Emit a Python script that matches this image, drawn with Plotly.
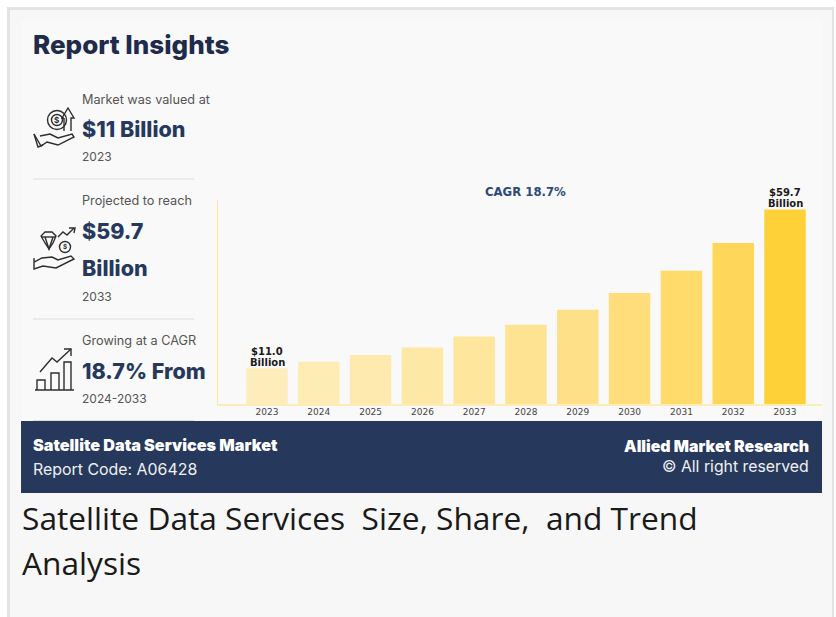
import plotly.graph_objects as go

W, H = 836, 617

# Market size by year, USD billion
years = [2023, 2024, 2025, 2026, 2027, 2028, 2029, 2030, 2031, 2032, 2033]
market_size = [11.0, 13.0, 15.0, 17.3, 20.7, 24.3, 28.9, 34.1, 40.9, 49.4, 59.7]
bar_colors = ["#FEEDBB", "#FEECB5", "#FEEAAE", "#FEE8A6", "#FEE69D", "#FEE393",
              "#FEE088", "#FEDD7A", "#FEDB6A", "#FED659", "#FED139"]
labelled_years = [2023, 2033]


def px(x):
    return x / W


def py(y):
    return 1 - y / H


def rect(x0, y0, x1, y1, color):
    return dict(type="rect", xref="paper", yref="paper", layer="below",
                x0=px(x0), x1=px(x1), y0=py(y0), y1=py(y1),
                fillcolor=color, line=dict(width=0))


def polyline(points, color="#2E2E2E", width=1.4, closed=False):
    d = "M " + " L ".join(f"{px(x):.5f},{py(y):.5f}" for x, y in points)
    if closed:
        d += " Z"
    return dict(type="path", xref="paper", yref="paper", path=d,
                line=dict(color=color, width=width))


def circle(cx, cy, r, color="#2E2E2E", width=1.4):
    return dict(type="circle", xref="paper", yref="paper",
                x0=px(cx - r), x1=px(cx + r), y0=py(cy + r), y1=py(cy - r),
                line=dict(color=color, width=width))


def label(x, y, text, size, color, family="Inter", anchor="left", weight=400):
    return dict(xref="paper", yref="paper", x=px(x), y=py(y), text=text,
                showarrow=False, xanchor=anchor, yanchor="middle",
                font=dict(size=size, color=color, family=family, weight=weight),
                borderpad=0, borderwidth=0)


NAVY = "#26395D"
INK = "#1E2B4A"
GREY = "#555555"

# Page, card, header band and footer band
shapes = [
    rect(0, 0, W, H, "#FFFFFF"),
    rect(7, 7, 834, H, "#E3E3E3"),
    rect(10, 10, 832, H, "#F7F7F7"),
    rect(21, 20, 822, 421, "#F9F9F9"),
    rect(21, 421, 822, 493, NAVY),
    rect(33, 178.5, 194, 179.5, "#DEDEDE"),
    rect(33, 318.5, 194, 319.5, "#DEDEDE"),
    rect(33, 420, 194, 421, "#DEDEDE"),
]

# Hand holding a coin with an up arrow
shapes += [
    circle(57, 120, 9.5),
    circle(57, 120, 5.5),
    polyline([(64, 131), (64, 118)]),
    polyline([(71, 131), (71, 118), (74, 118), (68, 108), (62, 118), (64, 118)]),
    polyline([(34, 134), (41, 146), (47, 142), (58, 145), (74, 137), (72, 134),
              (58, 138), (50, 134), (40, 136)]),
    polyline([(34, 134), (38, 147), (43, 145)]),
]

# Hand with a gem, a coin and a rising trend
shapes += [
    polyline([(41, 236), (45, 243), (49, 249), (53, 243), (56, 236), (52, 232),
              (45, 232)], closed=True),
    polyline([(41, 237), (56, 237)]),
    polyline([(45, 237), (49, 249), (53, 237)]),
    circle(65, 247, 5.5),
    polyline([(58, 237), (63, 232), (67, 235), (74, 228)]),
    polyline([(69, 228), (75, 228), (74, 233)]),
    polyline([(34, 258), (34, 269), (43, 266), (56, 268), (74, 259), (71, 256),
              (58, 260), (52, 257), (42, 258), (34, 262)]),
]

# Bar chart icon with a rising arrow
shapes += [
    polyline([(35, 390), (74, 390)], width=1.6),
    polyline([(37, 390), (37, 380), (45, 380), (45, 390)]),
    polyline([(51, 390), (51, 373), (59, 373), (59, 390)]),
    polyline([(64, 390), (64, 362), (71, 362), (71, 390)]),
    polyline([(40, 372), (52, 358), (57, 362), (71, 349)]),
    polyline([(64, 349), (71, 349), (71, 356)]),
]

annotations = [
    label(33, 45, "Report Insights", 26, INK, weight=800),
    label(57, 120, "$", 8, "#2E2E2E", anchor="center", weight=700),
    label(65, 247, "$", 6.5, "#2E2E2E", anchor="center", weight=700),
    label(82, 99.5, "Market was valued at", 12.7, GREY),
    label(82, 129, "$11 Billion", 21.5, NAVY, weight=800),
    label(82, 156.5, "2023", 12, GREY),
    label(82, 200.5, "Projected to reach", 12.7, GREY),
    label(82, 230.5, "$59.7", 21.5, NAVY, weight=800),
    label(82, 268.5, "Billion", 21.5, NAVY, weight=800),
    label(82, 296.5, "2033", 12, GREY),
    label(82, 340.5, "Growing at a CAGR", 12.7, GREY),
    label(82, 370.5, "18.7% From", 21.5, NAVY, weight=800),
    label(82, 398.5, "2024-2033", 12, GREY),
    label(525.5, 191.5, "CAGR 18.7%", 11.7, "#2D4A78", "DejaVu Sans", "center", 700),
    label(33, 445, "Satellite Data Services Market", 16.2, "#FFFFFF", weight=900),
    label(33, 469.5, "Report Code: A06428", 15.9, "#F0F0F0"),
    label(809, 446.5, "Allied Market Research", 15.9, "#FFFFFF", anchor="right", weight=900),
    label(809, 466.5, "© All right reserved", 15.8, "#F0F0F0", anchor="right"),
    label(22, 517.5, "Satellite Data Services\u00a0 Size, Share,\u00a0 and Trend", 31.7,
          "#1A1A1A", "Open Sans"),
    label(22, 562.5, "Analysis", 31.7, "#1A1A1A", "Open Sans"),
]

# Two-line value labels sit just above their bars
for year, value in zip(years, market_size):
    if year in labelled_years:
        for line, shift in ((f"${value:.1f}", 16.5), ("Billion", 5.5)):
            annotations.append(dict(
                xref="x", yref="y", x=year, y=value, text=line, yshift=shift,
                showarrow=False, xanchor="center", yanchor="middle",
                font=dict(size=10, color="#1A1A1A", family="DejaVu Sans", weight=700),
            ))

fig = go.Figure(go.Bar(
    x=years,
    y=market_size,
    width=0.8,
    marker=dict(color=bar_colors, line=dict(width=0)),
    hoverinfo="x+y",
))

fig.update_layout(
    width=W,
    height=H,
    margin=dict(l=0, r=0, t=0, b=0),
    paper_bgcolor="#FFFFFF",
    plot_bgcolor="rgba(0,0,0,0)",
    showlegend=False,
    shapes=shapes,
    annotations=annotations,
    xaxis=dict(
        domain=[218 / W, 822 / W],
        range=[2023 - 0.946, 2033 + 0.714],
        tickmode="array",
        tickvals=years,
        ticktext=[str(y) for y in years],
        ticks="",
        showgrid=False,
        zeroline=False,
        showline=True,
        linecolor="#FDEBB8",
        linewidth=2,
        tickfont=dict(size=9, color="#444444", family="DejaVu Sans"),
        ticklabelstandoff=-2,
    ),
    yaxis=dict(
        domain=[1 - 404 / H, 1 - 200 / H],
        range=[0, 62.6],
        showticklabels=False,
        ticks="",
        showgrid=False,
        zeroline=False,
        showline=True,
        linecolor="#FBE5A0",
        linewidth=1,
    ),
)

fig.write_html("out.html", config=dict(displayModeBar=False))
